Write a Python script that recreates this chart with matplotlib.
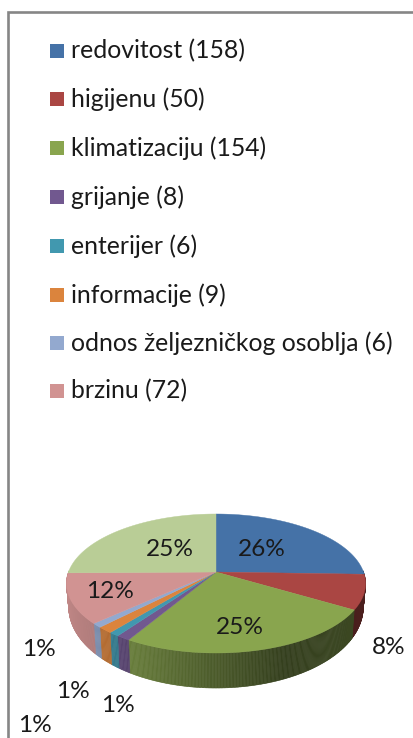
# Pie chart with fake 3D depth, drawn in pixel space
import numpy as np
import matplotlib
matplotlib.use("Agg")
import matplotlib.pyplot as plt
from matplotlib.patches import Polygon, Rectangle

plt.rcParams['font.family'] = ['Lato', 'DejaVu Sans']

# Data (last slice has no legend entry)
legend_names = ["redovitost", "higijenu", "klimatizaciju", "grijanje", "enterijer",
                "informacije", "odnos željezničkog osoblja", "brzinu"]
values = [158, 50, 154, 8, 6, 9, 6, 72, 156]
colors = ["#4572A7", "#AA4643", "#89A54E", "#71588F", "#4198AF",
          "#DB843D", "#93A9CF", "#D19392", "#B9CD96"]

W, H = 414, 738

# Projection of the pie disc
CX, CY = 216, 572
RX, RY = 147.5, 67.6
PERSP = 0.1655

label_pos = [(262, 549), (389, 648), (240, 627), (118, 705), (73, 692),
             (35, 725), (39, 650), (110, 591), (170, 549)]
legend_y = [51, 99, 148, 197, 246, 295, 343, 391]


def top_ring(theta):
    u, v = np.sin(theta), -np.cos(theta)
    d = 1 - PERSP * v
    return CX + RX * u / d, CY + RY * v / d


def bottom_ring(theta):
    x, y = top_ring(theta)
    v = -np.cos(theta)
    return CX + (x - CX) * 0.985, y + 21 + 14 * v


def shade(color, theta):
    u = np.sin(theta)
    f = np.interp(u, [-1, -0.6, 0.4, 1], [0.92, 0.8, 0.38, 0.45])
    return tuple(np.array(matplotlib.colors.to_rgb(color)) * f)


fig = plt.figure(figsize=(W / 100, H / 100), dpi=100)
ax = fig.add_axes([0, 0, 1, 1])
ax.set_xlim(0, W)
ax.set_ylim(H, 0)
ax.axis('off')

# frame of the original chart, cut by the screenshot on the right and below
ax.plot([8.5, 8.5, W], [H, 11.5, 11.5], color="#868686", lw=1.9, solid_joinstyle='miter')

edges = np.concatenate([[0], np.cumsum(values)]) / np.sum(values) * 2 * np.pi

# side wall, only the part facing the viewer
for i, color in enumerate(colors):
    start = max(edges[i], np.pi / 2 - 0.02)
    end = min(edges[i + 1], 3 * np.pi / 2 + 0.02)
    if end <= start:
        continue
    steps = np.linspace(start, end, max(2, int((end - start) * 120)))
    for a, b in zip(steps[:-1], steps[1:]):
        xa, ya = top_ring(a)
        xb, yb = top_ring(b)
        xc, yc = bottom_ring(b)
        xd, yd = bottom_ring(a)
        c = shade(color, (a + b) / 2)
        ax.add_patch(Polygon([(xa, ya), (xb, yb), (xc, yc), (xd, yd)], closed=True,
                             facecolor=c, edgecolor=c, lw=0.4))

# top face
for i, color in enumerate(colors):
    t = np.linspace(edges[i], edges[i + 1], 80)
    x, y = top_ring(t)
    pts = [(CX, CY)] + list(zip(x, y))
    ax.add_patch(Polygon(pts, closed=True, facecolor=color, edgecolor=color, lw=0.3))

# percent labels
total = sum(values)
for val, (x, y) in zip(values, label_pos):
    ax.text(x, y, f"{round(100 * val / total)}%", fontsize=17.6, color="#1a1a1a",
            ha='center', va='center')

# legend
for name, val, color, y in zip(legend_names, values, colors, legend_y):
    ax.add_patch(Rectangle((50, y - 7), 14, 14, facecolor=color, edgecolor='none'))
    ax.text(71, y, f"{name} ({val})", fontsize=17.8, color="#1a1a1a", ha='left', va='center')

fig.savefig("out.png", dpi=100, facecolor='white')
